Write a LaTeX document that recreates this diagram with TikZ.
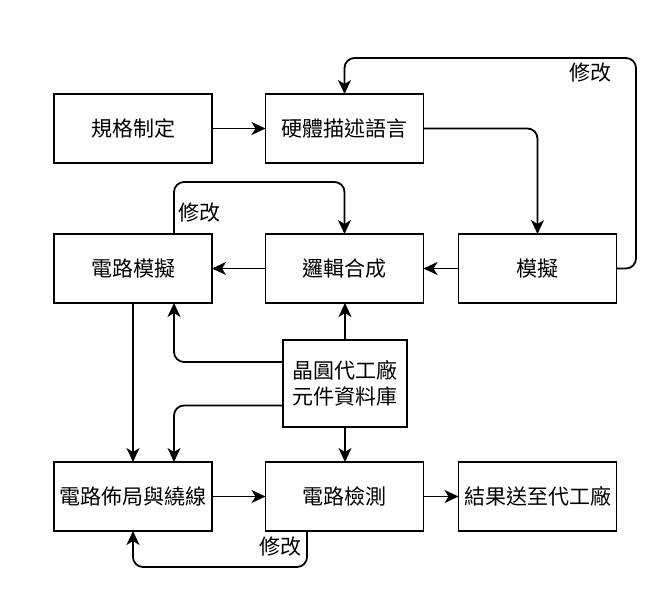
\documentclass[tikz,border=0pt]{standalone}
\usepackage{fontspec}
\setmainfont{Noto Sans CJK TC}
\usepackage{tikz}
\usetikzlibrary{arrows.meta}
\usetikzlibrary{calc}
\usetikzlibrary{positioning}

\begin{document}
\begin{tikzpicture}[
	x=1pt, y=-1pt,
  > = {Stealth[length=14pt,width=13pt,inset=4pt]},
  every node/.style = {font=\fontsize{21}{26}\selectfont},
  box/.style = {draw,line width=1.8pt,minimum width=158pt,minimum height=69pt,inner sep=0pt,outer sep=0pt},
  flow/.style = {->,line width=1.8pt,rounded corners=10pt},
  note/.style = {inner sep=0pt}
  ]
	\useasboundingbox (0,0) rectangle (669,595);

	\node[box] (spec)   at (133,128.5)   {規格制定};
	\node[box] (hdl)    at (344.5,128.5) {硬體描述語言};
	\node[box] (cirsim) at (133,268.5)   {電路模擬};
	\node[box] (synth)  at (344.5,268.5) {邏輯合成};
	\node[box] (sim)    at (537.5,268.5) {模擬};
	\node[box,minimum width=124pt,minimum height=87pt,align=center] (lib) at (345,383.5) {晶圓代工廠\\元件資料庫};
	\node[box] (layout) at (133,496.5)   {電路佈局與繞線};
	\node[box] (check)  at (344.5,496.5) {電路檢測};
	\node[box] (fab)    at (537.5,496.5) {結果送至代工廠};

	\coordinate (@top) at (636,58);

	\draw[flow] (spec) -- (hdl);
	\draw[flow] (hdl.east) -| (sim.north);
	\draw[flow] (sim.east) -| (@top) -| (hdl.north);
	\node[note] (fix1) at (590,73) {修改};

	\draw[flow] (sim) -- (synth);
	\draw[flow] (synth) -- (cirsim);
	\draw[flow] ([xshift=41pt]cirsim.north) -- ++(0,-52) -| (synth.north);
	\node[note] (fix2) at (199,213) {修改};

	\draw[flow] (lib.north) -- (lib.north |- synth.south);
	\draw[flow] ([yshift=21.5pt]lib.west) -| ([xshift=41pt]cirsim.south);
	\draw[flow] ([yshift=-22pt]lib.west) -| ([xshift=41pt]layout.north);
	\draw[flow] (cirsim) -- (layout);
	\draw[flow] (lib.south) -- (lib.south |- check.north);

	\draw[flow] (layout) -- (check);
	\draw[flow] (check) -- (fab);
	\draw[flow] ([xshift=-37.5pt]check.south) -- ++(0,36) -| (layout.south);
	\node[note] (fix3) at (280,547) {修改};

\end{tikzpicture}
\end{document}
